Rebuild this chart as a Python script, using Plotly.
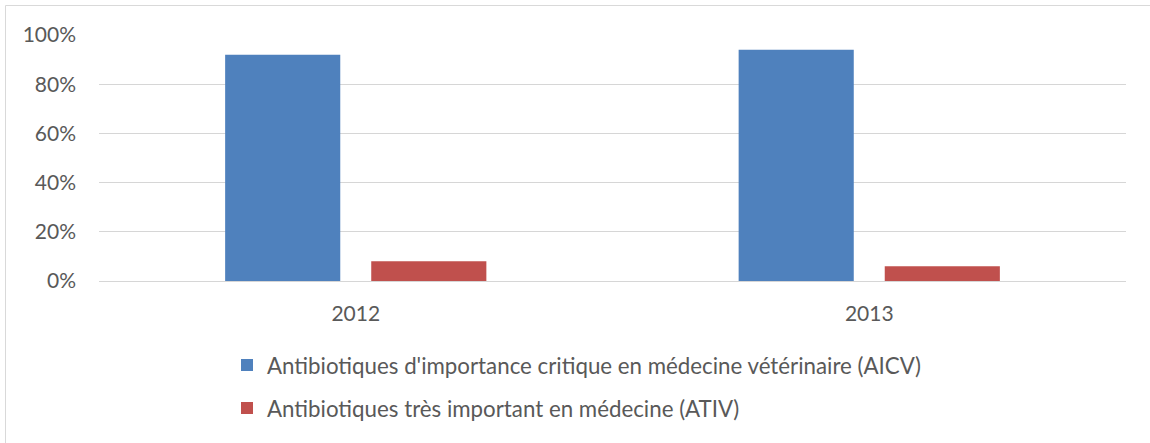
import plotly.graph_objects as go

years = ["2012", "2013"]
aicv = [0.92, 0.94]
ativ = [0.08, 0.06]
name_aicv = "Antibiotiques d'importance critique en médecine vétérinaire (AICV)"
name_ativ = "Antibiotiques très important en médecine (ATIV)"

W, H = 1150, 443
PL, PR, PT, PB = 99, 1126, 35, 281   # plot area in page pixels
L, T, R, B = PL, PT, W - PR, H - PB
pw, ph = PR - PL, PB - PT

def px_x(x):
    return (x - PL) / pw

def px_y(y):
    return (PB - y) / ph

FONT = "Lato"
TXT = "#595959"

fig = go.Figure()
fig.add_trace(go.Bar(x=years, y=aicv, name=name_aicv, marker_color="#4f81bd",
                     marker_line_width=0, legendgroup="a"))
fig.add_trace(go.Bar(x=years, y=ativ, name=name_ativ, marker_color="#c0504d",
                     marker_line_width=0, legendgroup="b"))

fig.update_layout(
    width=W, height=H,
    margin=dict(l=L, r=R, t=T, b=B, autoexpand=False),
    paper_bgcolor="white", plot_bgcolor="white",
    barmode="group", bargap=0.431, bargroupgap=0.212,
    font=dict(family=FONT, size=21, color=TXT),
    legend=dict(x=px_x(227), y=px_y(344), xanchor="left", yanchor="top",
                orientation="v", traceorder="grouped", tracegroupgap=11,
                font=dict(family=FONT, size=22.3, color=TXT),
                bgcolor="rgba(0,0,0,0)"),
    showlegend=True,
)
fig.update_yaxes(range=[0, 1], tickvals=[0, 0.2, 0.4, 0.6, 0.8, 1.0],
                 tickformat=".0%", showgrid=True, gridcolor="#d6d6d6", gridwidth=1.3,
                 zeroline=False, showline=False, ticks="", ticklabelstandoff=22,
                 tickfont=dict(family=FONT, size=21, color=TXT), fixedrange=True)
fig.update_xaxes(type="category", showgrid=False, zeroline=False,
                 showline=True, linecolor="#d6d6d6", linewidth=1.3, ticks="",
                 ticklabelstandoff=13,
                 tickfont=dict(family=FONT, size=21, color=TXT), fixedrange=True)

fig.add_shape(type="rect", xref="paper", yref="paper",
              x0=px_x(5.5), x1=px_x(1170), y0=px_y(470), y1=px_y(5.5),
              line=dict(color="#d9d9d9", width=1), fillcolor="rgba(0,0,0,0)",
              layer="below")

fig.write_html("out.html",
               config={"displayModeBar": False, "staticPlot": True},
               post_script="document.body.style.margin='0';document.body.style.overflow='hidden';")
